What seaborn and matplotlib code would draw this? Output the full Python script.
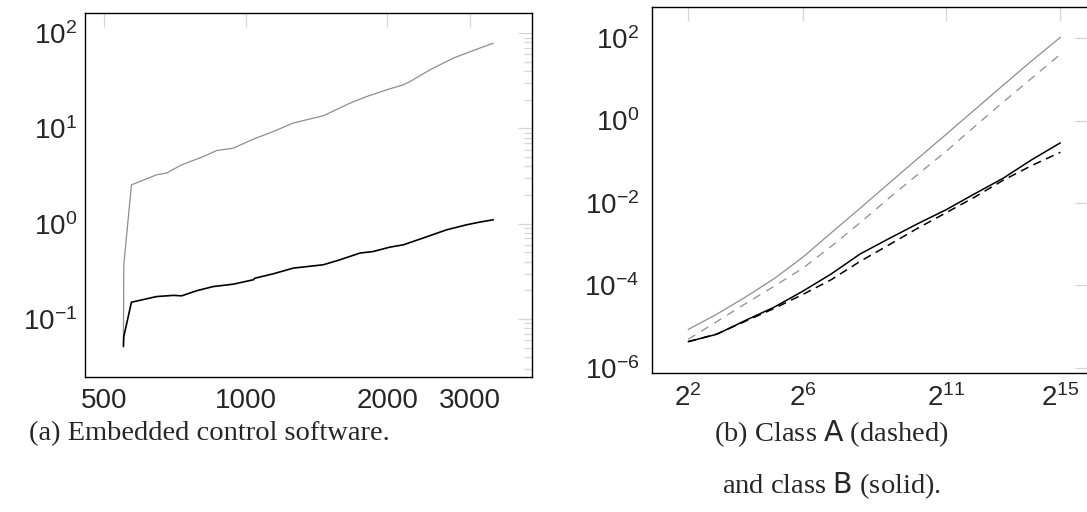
import matplotlib
matplotlib.use("Agg")
import numpy as np
import pandas as pd
import matplotlib.pyplot as plt
import matplotlib.ticker as ticker
import seaborn as sns

# (a) embedded control software, two runtime curves
emb_x_gray = [550, 551, 572, 647, 679, 731, 813, 867, 941, 1038, 1144, 1262,
              1462, 1664, 1806, 1991, 2160, 2233, 2461, 2759, 3141, 3355]
emb_y_gray = [0.055, 0.37, 2.56, 3.26, 3.40, 4.15, 5.07, 5.86, 6.21, 7.72, 9.27,
              11.4, 13.6, 18.4, 21.6, 25.4, 28.7, 31.0, 41.2, 54.7, 69.7, 78.5]
emb_x_black = [550, 551, 572, 647, 702, 731, 787, 853, 941, 1038, 1046, 1144,
               1262, 1462, 1585, 1748, 1866, 2024, 2160, 2344, 2671, 2944,
               3141, 3355]
emb_y_black = [0.0514, 0.0655, 0.150, 0.172, 0.177, 0.175, 0.198, 0.219, 0.232,
               0.258, 0.268, 0.298, 0.342, 0.371, 0.418, 0.492, 0.511, 0.568,
               0.600, 0.689, 0.863, 0.974, 1.04, 1.10]
emb_xticks = [500, 1000, 2000, 3000]
emb_yticks = [0.1, 1, 10, 100]

# (b) class A (dashed) and class B (solid), x = 2^exponent
cls_exp = list(range(2, 16))
gray_solid = [8.5e-6, 2.0e-5, 5.2e-5, 1.45e-4, 4.8e-4, 1.9e-3, 7.4e-3, 2.95e-2,
              0.117, 0.457, 1.82, 7.2, 28.2, 105]
gray_dashed = [4.9e-6, 1.32e-5, 3.6e-5, 9.5e-5, 2.6e-4, 8.9e-4, 3.3e-3, 1.29e-2,
               4.8e-2, 0.178, 0.71, 2.8, 10.7, 40.7]
black_solid = [4.3e-6, 6.5e-6, 1.41e-5, 2.95e-5, 7.2e-5, 1.9e-4, 5.75e-4,
               1.35e-3, 3.1e-3, 6.8e-3, 1.66e-2, 3.98e-2, 0.112, 0.288]
black_dashed = [4.3e-6, 6.6e-6, 1.35e-5, 2.75e-5, 6.0e-5, 1.38e-4, 3.8e-4,
                9.5e-4, 2.4e-3, 5.75e-3, 1.38e-2, 3.55e-2, 8.1e-2, 0.17]
cls_xtick_exp = [2, 6, 11, 15]
cls_yticks = [1e-6, 1e-4, 1e-2, 1, 1e2]

sns.set_style("white")
plt.rcParams['lines.scale_dashes'] = False
plt.rcParams['axes.linewidth'] = 1.0
tick_font = ['Liberation Sans', 'DejaVu Sans']
cap_font = ['Liberation Serif', 'DejaVu Serif']
GRAY = '#8e8e8e'
TICK = '#d6d6d6'

fig = plt.figure(figsize=(10.87, 5.12), dpi=100)
ax1 = fig.add_axes([0.0782, 0.2646, 0.4109, 0.7106])
ax2 = fig.add_axes([0.5995, 0.2721, 0.4023, 0.7136])

df_g = pd.DataFrame({'x': emb_x_gray, 'y': emb_y_gray})
df_b = pd.DataFrame({'x': emb_x_black, 'y': emb_y_black})
sns.lineplot(data=df_g, x='x', y='y', ax=ax1, color=GRAY, lw=0.9, errorbar=None)
sns.lineplot(data=df_b, x='x', y='y', ax=ax1, color='black', lw=1.2, errorbar=None)

xs = 2.0 ** np.array(cls_exp)
series = [(gray_solid, GRAY, 0.9, None), (gray_dashed, GRAY, 0.9, (6, 5)),
          (black_solid, 'black', 1.1, None), (black_dashed, 'black', 1.1, (6, 4))]
for vals, col, lw, dash in series:
    kw = {} if dash is None else {'dashes': dash}
    sns.lineplot(x=xs, y=vals, ax=ax2, color=col, lw=lw, errorbar=None, **kw)

# left axes
ax1.set_xscale('log')
ax1.set_yscale('log')
ax1.set_xlim(455.8, 4048)
ax1.set_ylim(0.0249, 164)
ax1.xaxis.set_major_locator(ticker.FixedLocator(emb_xticks))
ax1.xaxis.set_major_formatter(ticker.FixedFormatter([str(t) for t in emb_xticks]))
ax1.xaxis.set_minor_locator(ticker.NullLocator())
ax1.yaxis.set_major_locator(ticker.FixedLocator(emb_yticks))
ax1.yaxis.set_major_formatter(ticker.LogFormatterSciNotation())
ax1.yaxis.set_minor_locator(ticker.LogLocator(base=10, subs=np.arange(2, 10)))
ax1.yaxis.set_minor_formatter(ticker.NullFormatter())

# right axes
ax2.set_xscale('log', base=2)
ax2.set_yscale('log')
ax2.set_xlim(2 ** 0.722, 2 ** 16)
ax2.set_ylim(10 ** -6.12, 10 ** 2.75)
ax2.xaxis.set_major_locator(ticker.FixedLocator([2.0 ** e for e in cls_xtick_exp]))
ax2.xaxis.set_major_formatter(ticker.FixedFormatter(
    ['$\\mathdefault{2^{%d}}$' % e for e in cls_xtick_exp]))
ax2.xaxis.set_minor_locator(ticker.NullLocator())
ax2.yaxis.set_major_locator(ticker.FixedLocator(cls_yticks))
ax2.yaxis.set_major_formatter(ticker.LogFormatterSciNotation())
ax2.yaxis.set_minor_locator(ticker.NullLocator())

for ax, ypad in [(ax1, 5.5), (ax2, 9)]:
    ax.set_xlabel('')
    ax.set_ylabel('')
    for sp in ax.spines.values():
        sp.set_color('black')
    ax.tick_params(which='both', direction='in', top=True, right=True,
                   color=TICK, width=0.9)
    ax.tick_params(which='major', length=10)
    ax.tick_params(which='minor', length=6)
    ax.tick_params(axis='x', pad=8)
    ax.tick_params(axis='y', pad=ypad)
    for lab in ax.get_xticklabels() + ax.get_yticklabels():
        lab.set_family(tick_font)
        lab.set_fontsize(20)

fig.text(0.193, 0.154, '(a) Embedded control software.', ha='center',
         va='center', fontsize=20.5, family=cap_font)
fig.text(0.765, 0.154, '(b) Class $\\mathsf{A}$ (dashed)', ha='center',
         va='center', fontsize=20.5, family=cap_font)
fig.text(0.765, 0.051, 'and class $\\mathsf{B}$ (solid).', ha='center',
         va='center', fontsize=20.5, family=cap_font)

fig.savefig('out.png', dpi=100)
